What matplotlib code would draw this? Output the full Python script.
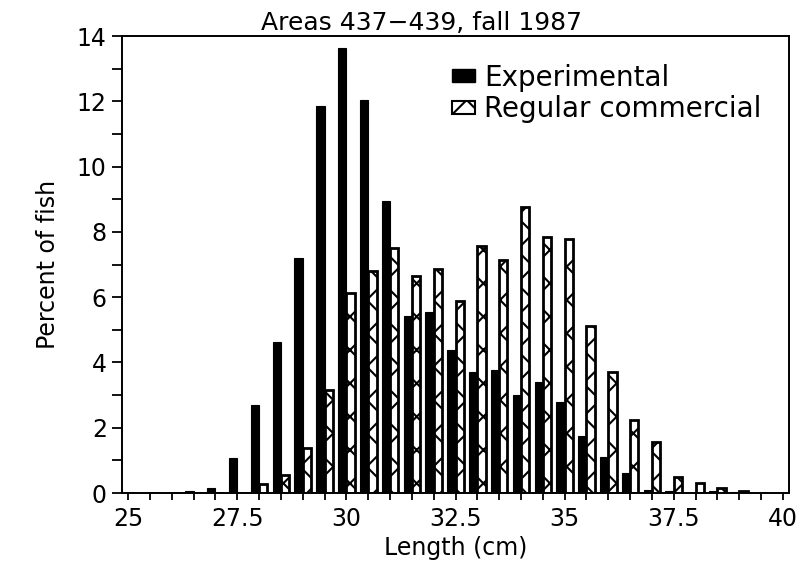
import matplotlib
matplotlib.use("Agg")
import matplotlib.pyplot as plt
from matplotlib.patches import Patch
from matplotlib.ticker import FuncFormatter, MultipleLocator

# Length bins (cm) and percent of fish per gear type
lengths = [25.0, 25.5, 26.0, 26.5, 27.0, 27.5, 28.0, 28.5, 29.0, 29.5,
           30.0, 30.5, 31.0, 31.5, 32.0, 32.5, 33.0, 33.5, 34.0, 34.5,
           35.0, 35.5, 36.0, 36.5, 37.0, 37.5, 38.0, 38.5, 39.0, 39.5]
experimental = [0.0, 0.0, 0.0, 0.05, 0.15, 1.07, 2.69, 4.64, 7.2, 11.87,
                13.62, 12.03, 8.94, 5.42, 5.55, 4.38, 3.7, 3.76, 3.0, 3.4,
                2.8, 1.75, 1.1, 0.62, 0.08, 0.05, 0.0, 0.05, 0.02, 0.0]
regular = [0.0, 0.0, 0.0, 0.0, 0.0, 0.0, 0.28, 0.56, 1.39, 3.15,
           6.14, 6.79, 7.5, 6.65, 6.85, 5.88, 7.58, 7.15, 8.75, 7.85,
           7.77, 5.12, 3.7, 2.25, 1.55, 0.48, 0.3, 0.15, 0.05, 0.0]

series_labels = ["Experimental", "Regular commercial"]
title = "Areas 437\u2212439, fall 1987"

plt.rcParams["font.family"] = ["DejaVu Sans"]
plt.rcParams["hatch.linewidth"] = 1.5

fig = plt.figure(figsize=(8.03, 5.68), dpi=100)
ax = fig.add_axes([0.152, 0.132, 0.8306, 0.8046])

w = 0.19
x_exp = [v - w / 2 for v in lengths]
x_reg = [v + w / 2 for v in lengths]
ax.bar(x_exp, experimental, width=w, color="black", edgecolor="black", linewidth=0.8)
ax.bar(x_reg, regular, width=w, color="white", edgecolor="black", linewidth=2.0, hatch="x")

ax.set_xlim(24.86, 40.14)
ax.set_ylim(0, 14)
ax.xaxis.set_major_locator(MultipleLocator(2.5))
ax.xaxis.set_minor_locator(MultipleLocator(0.5))
ax.yaxis.set_major_locator(MultipleLocator(2))
ax.yaxis.set_minor_locator(MultipleLocator(1))
ax.xaxis.set_major_formatter(FuncFormatter(lambda v, p: f"{v:g}"))
ax.tick_params(axis="both", which="both", direction="out", width=1.3, labelsize=17)
ax.tick_params(axis="x", which="both", length=5, pad=5)
ax.tick_params(axis="y", which="both", length=7, pad=4)
for s in ax.spines.values():
    s.set_linewidth(1.4)

ax.set_xlabel("Length (cm)", fontsize=17, labelpad=4)
ax.set_ylabel("Percent of fish", fontsize=17, labelpad=12)
fig.text(0.525, 0.947, title, ha="center", va="baseline", fontsize=18)

handles = [Patch(facecolor="black", edgecolor="black"),
           Patch(facecolor="white", edgecolor="black", hatch="x", linewidth=1.5)]
ax.legend(handles, series_labels, loc="upper left", bbox_to_anchor=(0.546, 0.912),
          bbox_transform=fig.transFigure, frameon=False, fontsize=20,
          handlelength=0.8, handleheight=0.35, handletextpad=0.35,
          borderpad=0, labelspacing=0.12)

fig.savefig("out.png", dpi=100)
